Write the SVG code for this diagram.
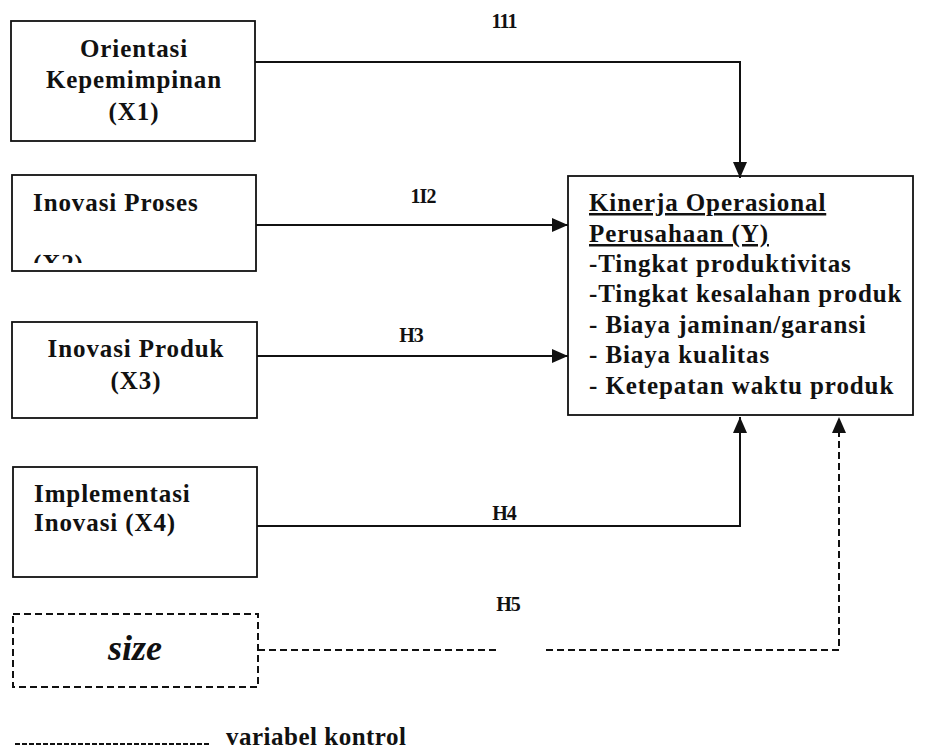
<svg xmlns="http://www.w3.org/2000/svg" width="930" height="755" viewBox="0 0 930 755">
<style>
.box{fill:#fff;stroke:#111;stroke-width:1.8}
.dbox{fill:none;stroke:#111;stroke-width:2;stroke-dasharray:7 4}
.t{font-family:"Liberation Serif","Times New Roman",serif;font-weight:bold;font-size:25px;letter-spacing:0.9px;fill:#111}
.c{text-anchor:middle}
.lab{font-family:"Liberation Serif","Times New Roman",serif;font-weight:bold;font-size:20px;letter-spacing:-1px;fill:#111;text-anchor:middle}
.ln{fill:none;stroke:#111;stroke-width:2}
.dl{fill:none;stroke:#111;stroke-width:2;stroke-dasharray:7 4}
</style>
<defs>
<marker id="ah" markerUnits="userSpaceOnUse" markerWidth="18" markerHeight="16" refX="16" refY="7" orient="auto">
<path d="M0,0 L16,7 L0,14 z" fill="#111"/>
</marker>
<clipPath id="cx2"><rect x="20" y="250" width="200" height="13"/></clipPath>
</defs>

<g id="x1">
<rect class="box" x="11" y="21" width="244" height="120"/>
<text class="t c" x="134" y="57">Orientasi</text>
<text class="t c" x="134" y="88">Kepemimpinan</text>
<text class="t c" x="134" y="120">(X1)</text>
</g>

<g id="x2">
<rect class="box" x="12" y="175" width="244" height="96"/>
<text class="t" x="33" y="211">Inovasi Proses</text>
<text class="t" x="33" y="272" clip-path="url(#cx2)">(X2)</text>
</g>

<g id="x3">
<rect class="box" x="12" y="322" width="245" height="96"/>
<text class="t c" x="136" y="357">Inovasi Produk</text>
<text class="t c" x="136" y="389">(X3)</text>
</g>

<g id="x4">
<rect class="box" x="13" y="467" width="244" height="110"/>
<text class="t" x="34" y="502">Implementasi</text>
<text class="t" x="34" y="531">Inovasi (X4)</text>
</g>

<g id="size">
<rect class="dbox" x="13" y="614" width="245" height="73"/>
<text x="135" y="660" style="font-family:'Liberation Serif','Times New Roman',serif;font-weight:bold;font-style:italic;font-size:36px;fill:#111;text-anchor:middle">size</text>
</g>

<g id="y">
<rect class="box" x="568" y="176" width="345" height="239"/>
<text class="t" x="589" y="211" text-decoration="underline">Kinerja Operasional</text>
<text class="t" x="589" y="242" text-decoration="underline">Perusahaan (Y)</text>
<text class="t" x="589" y="272">-Tingkat produktivitas</text>
<text class="t" x="589" y="302">-Tingkat kesalahan produk</text>
<text class="t" x="589" y="333">- Biaya jaminan/garansi</text>
<text class="t" x="589" y="363">- Biaya kualitas</text>
<text class="t" x="589" y="394">- Ketepatan waktu produk</text>
</g>

<g id="connectors">
<path class="ln" d="M255,62 H740 V178" marker-end="url(#ah)"/>
<path class="ln" d="M256,225 H568" marker-end="url(#ah)"/>
<path class="ln" d="M257,356 H568" marker-end="url(#ah)"/>
<path class="ln" d="M257,526 H740 V417" marker-end="url(#ah)"/>
<path class="dl" d="M258,650 H497"/>
<path class="dl" d="M546,650 H839 V417" marker-end="url(#ah)"/>
<text class="lab" x="504" y="28">111</text>
<text class="lab" x="423" y="203">1I2</text>
<text class="lab" x="411" y="342">H3</text>
<text class="lab" x="504" y="520">H4</text>
<text class="lab" x="508" y="611">H5</text>
</g>

<g id="legend">
<path d="M15,744 H210" fill="none" stroke="#111" stroke-width="2" stroke-dasharray="5 2"/>
<text class="t" x="226" y="745" style="letter-spacing:0.5px">variabel kontrol</text>
</g>
</svg>
